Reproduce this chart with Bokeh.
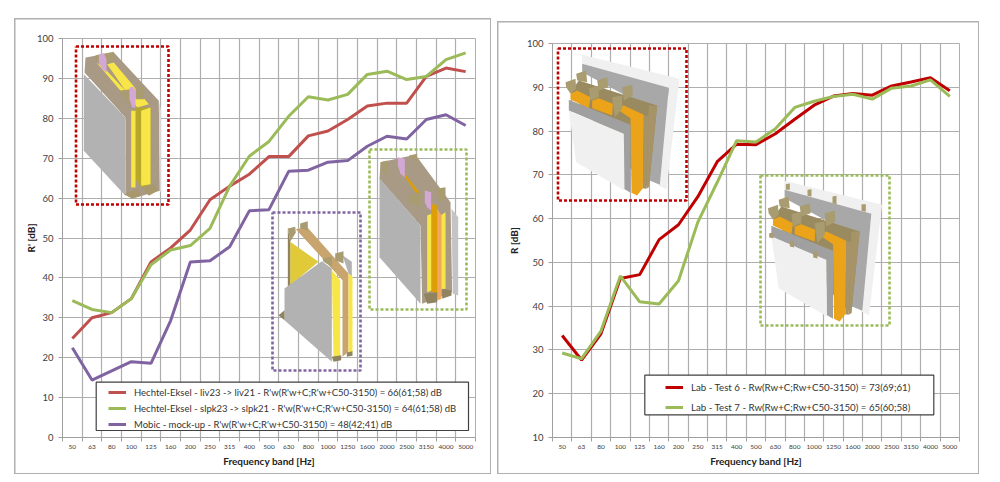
from bokeh.embed import file_html
from bokeh.layouts import row
from bokeh.models import FixedTicker, Range1d
from bokeh.plotting import figure
from bokeh.resources import INLINE

FONT = "Lato"

freqs = [50, 63, 80, 100, 125, 160, 200, 250, 315, 400, 500, 630, 800, 1000, 1250,
         1600, 2000, 2500, 3150, 4000, 5000]

liv = [24.8, 30.0, 31.3, 34.8, 44.0, 47.5, 52.0, 59.6, 63.0, 66.0, 70.4, 70.4, 75.6,
       76.8, 79.7, 83.1, 83.8, 83.8, 90.5, 92.6, 91.7]
slpk = [34.3, 32.1, 31.3, 34.8, 43.3, 47.0, 48.1, 52.4, 63.0, 70.5, 74.2, 80.5, 85.4,
        84.6, 86.0, 91.0, 91.8, 89.7, 90.5, 94.7, 96.4]
mobic = [22.5, 14.4, 16.7, 19.0, 18.6, 29.3, 44.0, 44.3, 47.8, 56.8, 57.1, 66.7, 67.0,
         69.0, 69.4, 73.0, 75.5, 74.8, 79.7, 80.9, 78.2]

test6 = [33.3, 27.7, 33.7, 46.3, 47.2, 55.2, 58.6, 65.0, 73.0, 77.0, 76.9, 79.4, 82.7,
         85.9, 88.0, 88.6, 88.2, 90.3, 91.2, 92.2, 89.2]
test7 = [29.3, 28.0, 34.3, 46.9, 41.0, 40.5, 45.8, 59.2, 68.3, 77.8, 77.5, 80.5, 85.4,
         86.8, 87.9, 88.4, 87.3, 89.8, 90.3, 91.7, 87.9]

legend_left = [
    "Hechtel-Eksel - liv23 -> liv21 - R'w(R'w+C;R'w+C50-3150) = 66(61;58) dB",
    "Hechtel-Eksel - slpk23 -> slpk21 - R'w(R'w+C;R'w+C50-3150) = 64(61;58) dB",
    "Mobic - mock-up - R'w(R'w+C;R'w+C50-3150) = 48(42;41) dB",
]
legend_right = [
    "Lab - Test 6 - Rw(Rw+C;Rw+C50-3150) = 73(69;61)",
    "Lab - Test 7 - Rw(Rw+C;Rw+C50-3150) = 65(60;58)",
]

RED, GREEN, PURPLE, DARKRED = "#c0504d", "#9bbb59", "#8064a2", "#c00000"
GRAY, OLIVE, BROWN = "#b2b2b2", "#a89c70", "#a89a84"
YEL, ORANGE, WOOL = "#f8e648", "#eba31a", "#a69468"

xs = [i + 0.5 for i in range(len(freqs))]
edges = list(range(len(freqs) + 1))


def chart(width, height, frame, ymin, ylabel, margin, label_gap, frame_top):
    # frame = left, right, top, bottom of the plot area in page pixels, then figure corner
    fl, fr, ft, fb, ox, oy = frame
    p = figure(width=width, height=height, output_backend="svg", toolbar_location=None,
               x_range=Range1d(0, len(freqs)), y_range=Range1d(ymin, 100),
               min_border_left=fl - ox, min_border_right=ox + width - fr,
               min_border_top=ft - oy, min_border_bottom=oy + height - fb,
               margin=margin, background_fill_color="white", border_fill_color=None,
               outline_line_color="#aeaeae")
    # outer chart border as css, its top edge sits below the canvas edge
    edge = "linear-gradient(#b0b0b0,#b0b0b0)"
    p.styles = {"background": (
        f"{edge} 0 {frame_top}px/100% 1.5px no-repeat, "
        f"{edge} 0 100%/100% 1.5px no-repeat, "
        f"{edge} 0 {frame_top}px/1.5px 100% no-repeat, "
        f"{edge} 100% {frame_top}px/1.5px 100% no-repeat")}
    p.xaxis.ticker = FixedTicker(ticks=xs, minor_ticks=edges)
    p.xaxis.major_label_overrides = {x: str(f) for x, f in zip(xs, freqs)}
    p.xaxis.major_tick_out = 0
    p.xaxis.major_tick_in = 0
    p.xaxis.minor_tick_out = 4
    p.xaxis.minor_tick_in = 0
    p.xaxis.major_label_text_font_size = "6.5px"
    p.xaxis.major_label_standoff = 3
    p.yaxis.ticker = FixedTicker(ticks=list(range(ymin, 101, 10)))
    p.yaxis.major_label_text_font_size = "9.5px"
    p.yaxis.major_tick_out = 4
    p.yaxis.major_tick_in = 0
    p.yaxis.major_label_standoff = 5
    p.xaxis.axis_label = "Frequency band [Hz]"
    p.yaxis.axis_label = ylabel
    for ax in [p.xaxis, p.yaxis]:
        ax.axis_label_text_font = FONT
        ax.axis_label_text_font_size = "10px"
        ax.axis_label_text_font_style = "bold"
        ax.axis_label_text_color = "#222222"
        ax.major_label_text_font = FONT
        ax.major_label_text_color = "#404040"
        ax.axis_line_color = "#a0a0a0"
        ax.major_tick_line_color = "#a0a0a0"
        ax.minor_tick_line_color = "#a0a0a0"
    p.xaxis.axis_label_standoff = 3
    p.yaxis.axis_label_standoff = label_gap
    p.xgrid.ticker = FixedTicker(ticks=edges)
    p.ygrid.ticker = FixedTicker(ticks=list(range(ymin, 101, 10)))
    p.xgrid.grid_line_color = "#aeaeae"
    p.ygrid.grid_line_color = "#aeaeae"
    p.xgrid.grid_line_width = 1.2
    p.ygrid.grid_line_width = 1.2

    def to_data(px, py):
        return ((px - fl) / (fr - fl) * len(freqs), ymin + (fb - py) / (fb - ft) * (100 - ymin))

    return p, to_data


def box(p, to_data, x0, x1, y0, y1, color):
    l, b = to_data(x0, y1)
    r, t = to_data(x1, y0)
    p.line([l, r, r, l, l], [t, t, b, b, t], line_color=color, line_width=2.6, line_dash=[3, 2])


def shapes(p, to_data, origin, parts):
    # outlines were traced on a 3x crop of the reference, origin is the crop corner
    for color, pts in parts:
        d = [to_data(origin[0] + x / 3, origin[1] + y / 3) for x, y in pts]
        p.patch([q[0] for q in d], [q[1] for q in d], fill_color=color, line_color=None)


def legend_box(p, to_data, x0, x1, y0, y1):
    l, b = to_data(x0, y1)
    r, t = to_data(x1, y0)
    p.quad(left=l, right=r, top=t, bottom=b, fill_color="white", line_color="#404040", line_width=1.2)


def style_legend(p, x, y, spacing, size):
    lg = p.legend[0]
    lg.location = (x, y)
    lg.background_fill_alpha = 0
    lg.border_line_color = None
    lg.padding = 0
    lg.margin = 0
    lg.spacing = spacing
    lg.label_height = 12
    lg.glyph_height = 12
    lg.glyph_width = 18
    lg.label_standoff = 8
    lg.label_text_font = FONT
    lg.label_text_font_size = size
    lg.label_text_color = "#333333"
    lg.label_text_line_height = 1.0


wall_red = [
    (BROWN, [(45, 45), (130, 30), (265, 175), (268, 445), (185, 468), (165, 455), (165, 225), (42, 90)]),
    ("#d8d8d8", [(265, 175), (272, 205), (272, 450), (268, 445)]),
    (GRAY, [(40, 95), (165, 225), (165, 460), (40, 325)]),
    (YEL, [(110, 65), (130, 60), (235, 185), (200, 195)]),
    (YEL, [(78, 60), (100, 75), (165, 145), (150, 145)]),
    ("#b8a82a", [(195, 195), (240, 195), (240, 425), (215, 435), (195, 410)]),
    (YEL, [(212, 205), (240, 195), (240, 425), (212, 430)]),
    (YEL, [(182, 205), (195, 205), (195, 435), (182, 435)]),
    (OLIVE, [(145, 145), (180, 140), (180, 190)]),
    (OLIVE, [(195, 135), (220, 130), (220, 170), (195, 170)]),
    (OLIVE, [(75, 38), (130, 28), (130, 50), (110, 65), (78, 55)]),
    ("#d4a8d4", [(85, 35), (100, 32), (108, 50), (108, 90), (95, 80), (85, 60)]),
    ("#d4a8d4", [(177, 135), (190, 132), (195, 150), (195, 195), (185, 195), (177, 170)]),
    ("#a8986c", [(160, 455), (200, 440), (213, 460), (185, 468)]),
    ("#a8986c", [(215, 435), (250, 425), (262, 445), (235, 460)]),
]

wall_purple = [
    ("#c8a46e", [(82, 62), (115, 55), (240, 195), (240, 430), (222, 445), (222, 215)]),
    (GRAY, [(222, 140), (250, 160), (250, 205), (240, 195)]),
    ("#e0ca3a", [(65, 100), (150, 160), (65, 230)]),
    ("#8f8360", [(58, 60), (65, 100), (65, 232), (58, 238)]),
    (OLIVE, [(58, 60), (80, 55), (82, 72), (65, 100)]),
    (OLIVE, [(95, 45), (118, 38), (118, 65), (95, 60)]),
    (GRAY, [(48, 240), (160, 158), (190, 180), (190, 460), (48, 335)]),
    (YEL, [(190, 185), (215, 215), (215, 445), (195, 450)]),
    (YEL, [(240, 195), (252, 205), (252, 430), (240, 440)]),
    (OLIVE, [(162, 150), (190, 145), (190, 175), (165, 160)]),
    (OLIVE, [(200, 135), (225, 128), (225, 165), (200, 155)]),
    ("#8f8360", [(190, 445), (218, 440), (218, 455), (195, 460)]),
    ("#8f8360", [(235, 432), (252, 428), (252, 442), (235, 445)]),
    ("#8f8360", [(30, 320), (48, 305), (48, 335)]),
]

wall_green = [
    (BROWN, [(45, 50), (150, 28), (255, 170), (260, 440), (170, 475), (165, 240), (42, 100)]),
    (GRAY, [(42, 98), (165, 240), (165, 475), (42, 335)]),
    ("#c4c4c4", [(258, 190), (278, 215), (278, 450), (262, 445)]),
    (YEL, [(185, 210), (198, 205), (198, 435), (185, 440)]),
    (YEL, [(225, 210), (240, 200), (240, 430), (225, 432)]),
    ("#dd9f08", [(198, 175), (215, 180), (215, 460), (198, 435)]),
    ("#f0a860", [(215, 190), (228, 210), (228, 460), (215, 465)]),
    ("#dd9f08", [(108, 80), (118, 85), (165, 145), (150, 140)]),
    (OLIVE, [(45, 50), (65, 45), (65, 90), (48, 70)]),
    (OLIVE, [(130, 150), (165, 140), (165, 185), (130, 170)]),
    (OLIVE, [(212, 130), (240, 125), (240, 155), (225, 170)]),
    (OLIVE, [(130, 30), (155, 25), (155, 50)]),
    ("#d4a8d4", [(97, 35), (118, 40), (118, 95), (105, 85), (97, 60)]),
    ("#d4a8d4", [(178, 135), (197, 140), (197, 195), (185, 185), (178, 170)]),
    ("#8f8360", [(175, 445), (215, 440), (215, 470), (185, 475)]),
    ("#8f8360", [(230, 430), (258, 435), (258, 450), (230, 460)]),
]

wall_lab = [
    ("#f0f0f0", [(80, 28), (372, 100), (333, 432), (310, 420), (340, 130), (80, 55)]),
    ("#a8a8a8", [(80, 55), (340, 127), (313, 418), (270, 400), (220, 155), (80, 80)]),
    ("#9a8a5f", [(70, 105), (305, 180), (280, 425), (250, 400), (45, 140)]),
    (WOOL, [(280, 180), (305, 180), (280, 425), (272, 430)]),
    (ORANGE, [(45, 145), (65, 135), (105, 155), (100, 188), (45, 162)]),
    (ORANGE, [(110, 165), (130, 158), (172, 175), (170, 210), (110, 188)]),
    (ORANGE, [(183, 190), (205, 180), (265, 208), (225, 218)]),
    (ORANGE, [(225, 215), (265, 208), (262, 428), (245, 450), (228, 442)]),
    (WOOL, [(265, 208), (280, 213), (272, 430), (262, 428)]),
    ("#a0a0a0", [(40, 163), (225, 238), (225, 442), (205, 430), (205, 265), (40, 195)]),
    ("#f0f0f0", [(40, 195), (205, 265), (207, 435), (62, 350)]),
    (OLIVE, [(30, 110), (60, 100), (62, 130), (45, 145), (32, 125)]),
    (OLIVE, [(62, 85), (92, 75), (95, 110), (65, 105)]),
    (OLIVE, [(125, 105), (155, 95), (158, 125), (130, 135)]),
    (OLIVE, [(100, 128), (130, 120), (130, 155), (105, 165)]),
    (OLIVE, [(170, 155), (200, 150), (200, 190), (178, 215)]),
    (OLIVE, [(200, 125), (230, 118), (232, 150), (205, 165)]),
]

fasteners = [
    (OLIVE, [(85, 35), (97, 33), (97, 52), (85, 52)]),
    (OLIVE, [(150, 52), (162, 50), (162, 72), (150, 70)]),
    (OLIVE, [(225, 72), (237, 70), (237, 95), (225, 92)]),
    (OLIVE, [(312, 95), (325, 95), (325, 118), (312, 115)]),
    (OLIVE, [(35, 182), (48, 180), (48, 197), (35, 195)]),
    (OLIVE, [(97, 207), (110, 205), (110, 225), (97, 222)]),
    (OLIVE, [(167, 238), (180, 235), (180, 258), (167, 255)]),
]

# left chart
p1, d1 = chart(477, 460, (62, 475, 38, 437, 14, 14), 0, "R' [dB]", (14, 0, 0, 14), -3, 4)
shapes(p1, d1, (70, 42), wall_red)
shapes(p1, d1, (268, 208), wall_purple)
shapes(p1, d1, (365, 145), wall_green)
box(p1, d1, 75.5, 168, 46, 204, "#c00000")
box(p1, d1, 272, 360, 212, 370, PURPLE)
box(p1, d1, 369, 466, 149, 309, GREEN)
legend_box(p1, d1, 95.7, 468, 381.7, 430)
p1.line(xs, liv, color=RED, line_width=3, legend_label=legend_left[0])
p1.line(xs, slpk, color=GREEN, line_width=3, legend_label=legend_left[1])
p1.line(xs, mobic, color=PURPLE, line_width=3, legend_label=legend_left[2])
style_legend(p1, 46, 7, 4, "9.5px")

# right chart
p2, d2 = chart(482, 455, (552, 959, 43, 437, 497, 19), 10, "R [dB]", (19, 0, 0, 6), 4, 2)
shapes(p2, d2, (555, 45), wall_lab)
shapes(p2, d2, (757.5, 171), wall_lab)
shapes(p2, d2, (757, 172), fasteners)
box(p2, d2, 557.5, 686, 48, 200, "#c00000")
box(p2, d2, 760, 889, 175, 325, GREEN)
legend_box(p2, d2, 644.3, 933.3, 374.7, 414.3)
p2.line(xs, test6, color=DARKRED, line_width=3, legend_label=legend_right[0])
p2.line(xs, test7, color=GREEN, line_width=3, legend_label=legend_right[1])
style_legend(p2, 113, 24, 8, "9.7px")

layout = row(p1, p2)
open("out.html", "w").write(file_html(layout, INLINE))
